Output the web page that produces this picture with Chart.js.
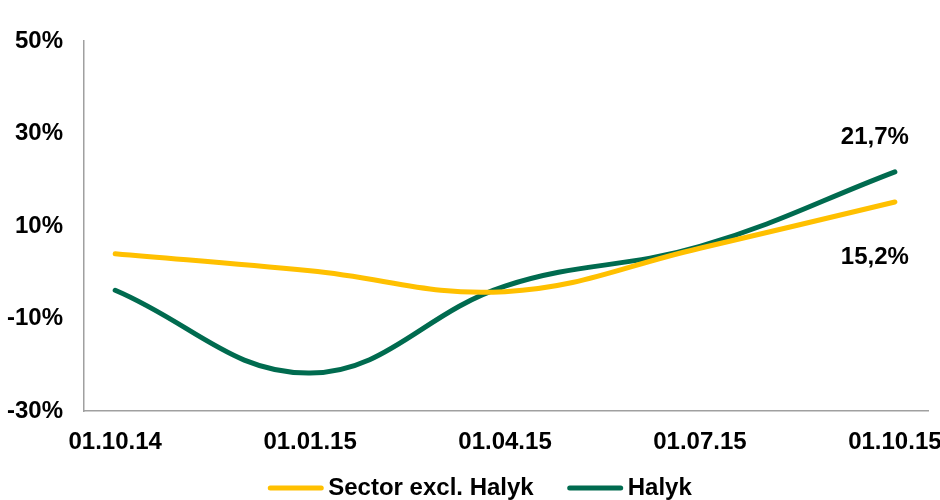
<!DOCTYPE html>
<html>
<head>
<meta charset="utf-8">
<script src="https://cdn.jsdelivr.net/npm/chart.js@4"></script>
<style>
html,body{margin:0;padding:0;background:#fff;}
#wrap{width:940px;height:500px;position:relative;}
</style>
</head>
<body>
<div id="wrap"><canvas id="c" width="940" height="500"></canvas></div>
<script>
const categories = ["01.10.14", "01.01.15", "01.04.15", "01.07.15", "01.10.15"];
const sectorValues = [4.0, 0.3, -4.2, 5.2, 15.2];
const halykValues = [-3.9, -21.8, -3.0, 5.6, 21.7];
const yTicks = [-30, -10, 10, 30, 50];
const seriesNames = ["Sector excl. Halyk", "Halyk"];
const seriesColors = ["#FFC000", "#006B4F"];
const endLabels = ["15,2%", "21,7%"];

const FONT = '"Liberation Sans", Arial, sans-serif';
const FS = 24;
Chart.defaults.font.family = FONT;
Chart.defaults.font.size = FS;
Chart.defaults.font.weight = 'bold';
Chart.defaults.color = '#000';

const toXY = arr => arr.map((v, i) => ({x: i, y: v}));

const endLabelPlugin = {
  id: 'endLabels',
  afterDatasetsDraw(chart) {
    const ctx = chart.ctx;
    ctx.save();
    ctx.font = 'bold ' + FS + 'px ' + FONT;
    ctx.fillStyle = '#000';
    ctx.textAlign = 'right';
    ctx.textBaseline = 'middle';
    chart.data.datasets.forEach((ds, di) => {
      const meta = chart.getDatasetMeta(di);
      const pt = meta.data[meta.data.length - 1];
      const dy = di === 0 ? 55 : -35;
      ctx.fillText(endLabels[di], pt.x + 14, pt.y + dy);
    });
    ctx.restore();
  }
};

const legendPlugin = {
  id: 'customLegend',
  afterDraw(chart) {
    const ctx = chart.ctx;
    ctx.save();
    ctx.font = 'bold ' + FS + 'px ' + FONT;
    ctx.textBaseline = 'middle';
    ctx.textAlign = 'left';
    const y = 488;
    const lineW = 55, gap = 5, itemGap = 34;
    const widths = seriesNames.map(n => ctx.measureText(n).width);
    let total = 0;
    widths.forEach((w, i) => { total += lineW + gap + w + (i < widths.length - 1 ? itemGap : 0); });
    let x = 480 - total / 2;
    seriesNames.forEach((n, i) => {
      ctx.strokeStyle = seriesColors[i];
      ctx.lineWidth = 5;
      ctx.lineCap = 'round';
      ctx.beginPath();
      ctx.moveTo(x + 2, y);
      ctx.lineTo(x + lineW - 2, y);
      ctx.stroke();
      ctx.fillStyle = '#000';
      ctx.fillText(n, x + lineW + gap, y);
      x += lineW + gap + widths[i] + itemGap;
    });
    ctx.restore();
  }
};

new Chart(document.getElementById('c'), {
  type: 'line',
  data: {
    datasets: [
      {label: seriesNames[0], data: toXY(sectorValues), borderColor: seriesColors[0], backgroundColor: seriesColors[0],
       borderWidth: 5, tension: 0.4, pointRadius: 0, borderCapStyle: 'round', fill: false},
      {label: seriesNames[1], data: toXY(halykValues), borderColor: seriesColors[1], backgroundColor: seriesColors[1],
       borderWidth: 5, tension: 0.4, pointRadius: 0, borderCapStyle: 'round', fill: false}
    ]
  },
  options: {
    responsive: false,
    animation: false,
    devicePixelRatio: 1,
    layout: {padding: {top: 41, right: 12, bottom: 0, left: 0}},
    plugins: {legend: {display: false}, tooltip: {enabled: false}},
    scales: {
      x: {
        type: 'linear',
        min: -0.16,
        max: 4.17,
        grid: {display: false, drawTicks: false},
        border: {display: true, color: '#A0A0A0', width: 1.5},
        afterBuildTicks: axis => { axis.ticks = categories.map((_, i) => ({value: i})); },
        ticks: {
          padding: 17,
          maxRotation: 0,
          autoSkip: false,
          callback: v => categories[v] !== undefined ? categories[v] : ''
        },
        afterFit: s => { s.height = 89; s.paddingLeft = 0; s.paddingRight = 0; }
      },
      y: {
        min: -30,
        max: 50,
        grid: {display: false, drawTicks: false},
        border: {display: true, color: '#A0A0A0', width: 1.5},
        afterBuildTicks: axis => { axis.ticks = yTicks.map(v => ({value: v})); },
        ticks: {padding: 21, callback: v => v + '%'},
        afterFit: s => { s.width = 84; s.paddingTop = 0; s.paddingBottom = 0; }
      }
    }
  },
  plugins: [endLabelPlugin, legendPlugin]
});
</script>
</body>
</html>
